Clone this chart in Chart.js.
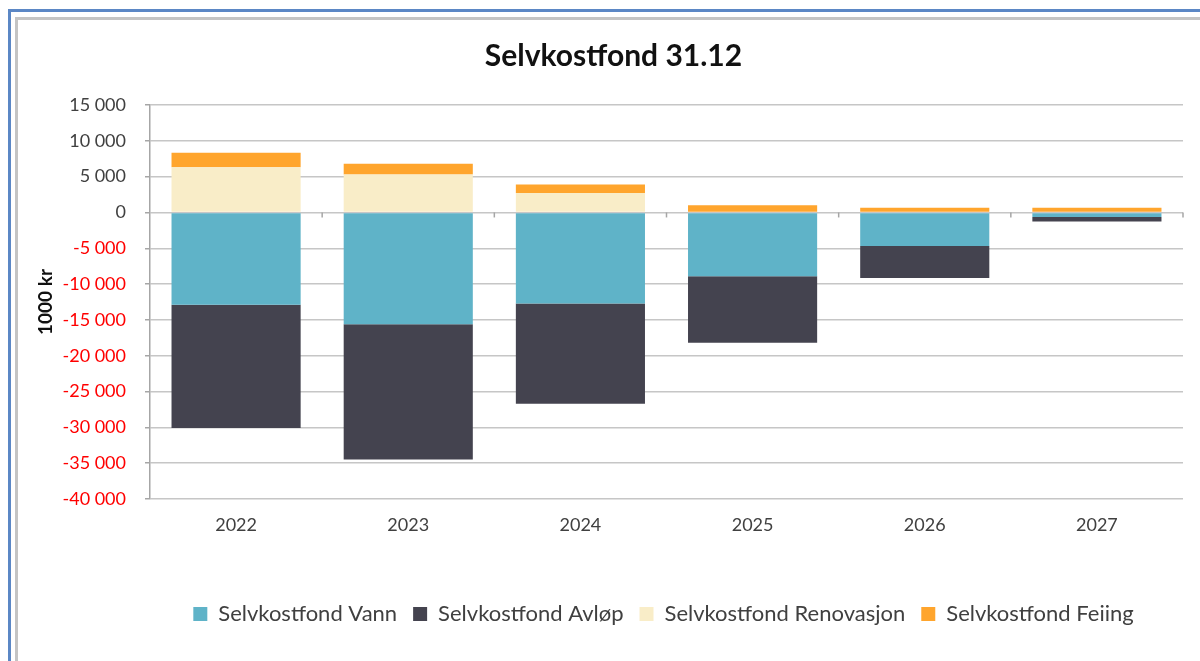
<!DOCTYPE html>
<html>
<head>
<meta charset="utf-8">
<script src="https://cdn.jsdelivr.net/npm/chart.js@4"></script>
<style>
  body { margin: 0; background: #fff; }
  #wrap { position: relative; width: 1200px; height: 661px; overflow: hidden; }
  .frame1 { position: absolute; left: 8px; top: 9px; right: -10px; bottom: -10px; border-left: 3px solid #5b87c5; border-top: 3px solid #5b87c5; }
  .frame2 { position: absolute; left: 15px; top: 17px; right: -10px; bottom: -10px; border-left: 3px solid #c4c4c4; border-top: 3px solid #c4c4c4; }
  canvas { position: absolute; left: 0; top: 0; }
</style>
</head>
<body>
<div id="wrap">
  <div class="frame1"></div>
  <div class="frame2"></div>
  <canvas id="fondChart" width="1200" height="661"></canvas>
</div>
<script>
// data (1000 kr)
const years = ["2022", "2023", "2024", "2025", "2026", "2027"];
const vann = [-12900, -15600, -12700, -8900, -4700, -650];
const avlop = [-17200, -18900, -14000, -9300, -4450, -600];
const renovasjon = [6300, 5300, 2700, 0, 0, 0];
const feiing = [2050, 1500, 1200, 1000, 650, 650];
const yMin = -40000;
const yMax = 15000;
const yStep = 5000;

const FONT = "Lato, 'Open Sans', sans-serif";

function fmt(v) {
  let s = Math.abs(v).toString().replace(/\B(?=(\d{3})+(?!\d))/g, " ");
  return (v < 0 ? "-" : "") + s;
}

// small tick marks on the zero line between categories
const zeroTicks = {
  id: "zeroTicks",
  afterDatasetsDraw(chart) {
    const x = chart.scales.x, y = chart.scales.y;
    const ctx = chart.ctx;
    const y0 = y.getPixelForValue(0);
    ctx.save();
    ctx.strokeStyle = "#a6a6a6";
    ctx.lineWidth = 1.5;
    for (let i = 1; i <= years.length; i++) {
      const px = (x.getPixelForValue(i - 1) + x.getPixelForValue(i)) / 2;
      const xx = i === years.length ? x.right : px;
      ctx.beginPath();
      ctx.moveTo(xx, y0);
      ctx.lineTo(xx, y0 + 5);
      ctx.stroke();
    }
    ctx.restore();
  }
};

// the excel legend and title sit a bit right of centre
const shiftBoxes = {
  id: "shiftBoxes",
  afterLayout(chart) {
    if (chart.legend) { chart.legend.left += 62; chart.legend.right += 62; }
    if (chart.titleBlock) { chart.titleBlock.left += 12; chart.titleBlock.right += 12; }
  }
};

document.addEventListener("DOMContentLoaded", function () {
  new Chart(document.getElementById("fondChart").getContext("2d"), {
    type: "bar",
    data: {
      labels: years,
      datasets: [
        { label: "Selvkostfond Vann", data: vann, backgroundColor: "#5fb3c8" },
        { label: "Selvkostfond Avløp", data: avlop, backgroundColor: "#44434f" },
        { label: "Selvkostfond Renovasjon", data: renovasjon, backgroundColor: "#f9edc8" },
        { label: "Selvkostfond Feiing", data: feiing, backgroundColor: "#ffa52d" },
      ],
    },
    options: {
      responsive: false,
      animation: false,
      layout: { padding: { left: 20, right: 17, top: 20, bottom: 26 } },
      datasets: { bar: { barPercentage: 0.75, categoryPercentage: 1.0 } },
      plugins: {
        title: {
          display: true,
          text: "Selvkostfond 31.12",
          color: "#111",
          font: { family: FONT, size: 30, weight: "bold" },
          padding: { top: 18, bottom: 31 },
        },
        legend: {
          position: "bottom",
          labels: {
            color: "#404040",
            font: { family: FONT, size: 22 },
            boxWidth: 14,
            boxHeight: 14,
            padding: 16,
          },
        },
        tooltip: { enabled: false },
      },
      scales: {
        x: {
          stacked: true,
          grid: { display: false },
          border: { display: false },
          ticks: { color: "#404040", font: { family: FONT, size: 18 }, padding: 7 },
          afterFit: function (s) { s.height = 88; },
        },
        y: {
          stacked: true,
          min: yMin,
          max: yMax,
          ticks: {
            stepSize: yStep,
            padding: 19,
            font: { family: FONT, size: 18 },
            color: function (c) { return c.tick.value < 0 ? "#ff0000" : "#404040"; },
            callback: function (v) { return fmt(v); },
          },
          grid: { color: "#c6c6c6", lineWidth: 1.5, tickLength: 5, tickColor: "#a6a6a6" },
          border: { display: true, color: "#a6a6a6", width: 1.5 },
          title: {
            display: true,
            text: "1000 kr",
            color: "#111",
            font: { family: FONT, size: 19, weight: "bold" },
            padding: { top: 14, bottom: 4 },
          },
          afterFit: function (s) { s.width = 130; },
        },
      },
    },
    plugins: [zeroTicks, shiftBoxes],
  });
});
</script>
</body>
</html>
